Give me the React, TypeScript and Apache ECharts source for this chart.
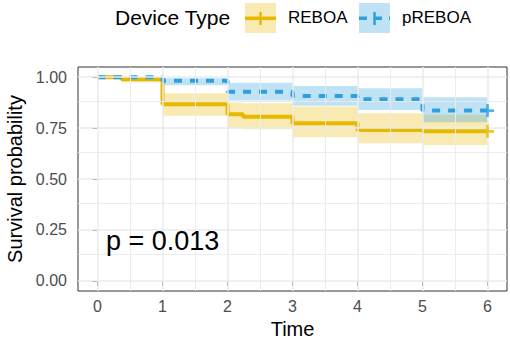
import React, { useEffect, useRef } from "react";
import * as echarts from "echarts";

// Kaplan-Meier estimates
const reboaTime = [0, 0.37, 1, 2, 2.24, 3, 4, 5, 6];
const reboaSurv = [1, 0.99, 0.867, 0.818, 0.806, 0.774, 0.741, 0.734, 0.734];
const reboaUpper = [1, 1, 0.921, 0.875, 0.872, 0.856, 0.823, 0.815, 0.815];
const reboaLower = [1, 0.975, 0.81, 0.748, 0.744, 0.705, 0.675, 0.667, 0.667];

const preboaTime = [0, 1, 2, 3, 4, 5, 6];
const preboaSurv = [1, 0.983, 0.929, 0.908, 0.892, 0.836, 0.836];
const preboaUpper = [1, 0.995, 0.973, 0.957, 0.946, 0.902, 0.902];
const preboaLower = [1, 0.96, 0.885, 0.86, 0.839, 0.779, 0.779];

const xTicks = [0, 1, 2, 3, 4, 5, 6];
const xMinor = [0.5, 1.5, 2.5, 3.5, 4.5, 5.5];
const yTicks = [0, 0.25, 0.5, 0.75, 1];
const yMinor = [0.125, 0.375, 0.625, 0.875];

const groupNames = ["REBOA", "pREBOA"];
const legendTitle = "Device Type";
const pValueText = "p = 0.013";

const ORANGE = "#E7B800";
const BLUE = "#2E9FDF";
const ORANGE_FILL = "rgba(231,184,0,0.3)";
const BLUE_FILL = "rgba(46,159,223,0.3)";
const FONT = "'Liberation Sans', Arial, Helvetica, sans-serif";
const PLUS = "path://M4,0H6V4H10V6H6V10H4V6H0V4H4Z";

function bandData(t: number[], lo: number[], hi: number[]) {
  const out: number[][] = [];
  for (let i = 0; i < t.length - 1; i++) out.push([t[i], t[i + 1], lo[i], hi[i]]);
  return out;
}

function bandSeries(name: string, t: number[], lo: number[], hi: number[], fill: string) {
  return {
    type: "custom",
    name,
    z: 1,
    silent: true,
    data: bandData(t, lo, hi),
    encode: { x: [0, 1], y: [2, 3] },
    renderItem: (_p: any, api: any) => {
      const a = api.coord([api.value(0), api.value(3)]);
      const b = api.coord([api.value(1), api.value(2)]);
      return {
        type: "rect",
        shape: { x: a[0], y: a[1], width: b[0] - a[0], height: b[1] - a[1] },
        style: { fill },
      };
    },
  };
}

export default function App() {
  const ref = useRef<HTMLDivElement>(null);
  useEffect(() => {
    if (!ref.current) return;
    const chart = echarts.init(ref.current, undefined, { renderer: "svg" });
    const gridLines = [
      ...xTicks.map((v) => ({ xAxis: v, lineStyle: { width: 1.5 } })),
      ...xMinor.map((v) => ({ xAxis: v, lineStyle: { width: 0.9 } })),
      ...yTicks.map((v) => ({ yAxis: v, lineStyle: { width: 1.5 } })),
      ...yMinor.map((v) => ({ yAxis: v, lineStyle: { width: 0.9 } })),
    ];
    chart.setOption({
      animation: false,
      backgroundColor: "#ffffff",
      textStyle: { fontFamily: FONT },
      grid: {
        left: 78,
        right: 3,
        top: 67,
        bottom: 48,
        show: true,
        borderColor: "#333333",
        borderWidth: 1,
        backgroundColor: "#ffffff",
        outerBoundsMode: "none",
      },
      xAxis: {
        type: "value",
        min: -0.3,
        max: 6.3,
        name: "Time",
        nameLocation: "middle",
        nameGap: 30,
        nameTextStyle: { color: "#000", fontSize: 20, lineHeight: 16, fontFamily: FONT },
        axisLine: { show: false },
        axisTick: { show: true, customValues: xTicks, length: 5, lineStyle: { color: "#333333", width: 1 } },
        axisLabel: {
          customValues: xTicks,
          color: "#4D4D4D",
          fontSize: 16,
          margin: 7,
          fontFamily: FONT,
          formatter: (v: number) => String(v),
        },
        splitLine: { show: false },
      },
      yAxis: {
        type: "value",
        min: -0.05,
        max: 1.05,
        name: "Survival probability",
        nameLocation: "middle",
        nameRotate: 90,
        nameGap: 50,
        nameTextStyle: { color: "#000", fontSize: 20, fontFamily: FONT },
        axisLine: { show: false },
        axisTick: { show: true, customValues: yTicks, length: 5, lineStyle: { color: "#333333", width: 1 } },
        axisLabel: {
          customValues: yTicks,
          color: "#4D4D4D",
          fontSize: 16,
          margin: 11,
          fontFamily: FONT,
          formatter: (v: number) => v.toFixed(2),
        },
        splitLine: { show: false },
      },
      series: [
        {
          type: "line",
          name: "grid",
          z: 0,
          silent: true,
          data: [[0, 1]],
          symbol: "none",
          lineStyle: { opacity: 0 },
          markLine: {
            silent: true,
            symbol: ["none", "none"],
            label: { show: false },
            lineStyle: { color: "#EBEBEB", type: "solid" },
            data: gridLines,
          },
        },
        bandSeries(groupNames[0], reboaTime, reboaLower, reboaUpper, ORANGE_FILL),
        bandSeries(groupNames[1], preboaTime, preboaLower, preboaUpper, BLUE_FILL),
        {
          type: "line",
          name: groupNames[0],
          z: 3,
          step: "end",
          symbol: "none",
          data: reboaTime.map((t, i) => [t, reboaSurv[i]]),
          lineStyle: { color: ORANGE, width: 4 },
        },
        {
          type: "line",
          name: groupNames[1],
          z: 4,
          step: "end",
          symbol: "none",
          data: preboaTime.map((t, i) => [t, preboaSurv[i]]),
          lineStyle: { color: BLUE, width: 4, type: [8, 8] },
        },
        {
          type: "scatter",
          name: "censor",
          z: 5,
          symbol: PLUS,
          symbolSize: 13,
          data: [
            { value: [reboaTime[reboaTime.length - 1], reboaSurv[reboaSurv.length - 1]], itemStyle: { color: ORANGE } },
            { value: [preboaTime[preboaTime.length - 1], preboaSurv[preboaSurv.length - 1]], itemStyle: { color: BLUE } },
          ],
        },
      ],
      graphic: [
        {
          type: "text",
          z: 100,
          left: 106,
          top: 227,
          style: { text: pValueText, fontSize: 27, fill: "#000", fontFamily: FONT },
        },
        {
          type: "text",
          z: 100,
          left: 115,
          top: 7,
          style: { text: legendTitle, fontSize: 21, fill: "#000", fontFamily: FONT },
        },
        // REBOA key
        { type: "rect", z: 100, shape: { x: 245, y: 3, width: 31, height: 30 }, style: { fill: ORANGE_FILL } },
        { type: "line", z: 101, shape: { x1: 245, y1: 18.3, x2: 276, y2: 18.3 }, style: { stroke: ORANGE, lineWidth: 3.5 } },
        { type: "line", z: 101, shape: { x1: 260.5, y1: 12, x2: 260.5, y2: 25 }, style: { stroke: ORANGE, lineWidth: 2.5 } },
        { type: "text", z: 100, left: 288, top: 9, style: { text: groupNames[0], fontSize: 17, fill: "#000", fontFamily: FONT } },
        // pREBOA key
        { type: "rect", z: 100, shape: { x: 359, y: 3, width: 31, height: 30 }, style: { fill: BLUE_FILL } },
        { type: "line", z: 101, shape: { x1: 359, y1: 18.3, x2: 390, y2: 18.3 }, style: { stroke: BLUE, lineWidth: 3.5, lineDash: [8, 7] } },
        { type: "line", z: 101, shape: { x1: 374.5, y1: 12, x2: 374.5, y2: 25 }, style: { stroke: BLUE, lineWidth: 2.5 } },
        { type: "text", z: 100, left: 402, top: 9, style: { text: groupNames[1], fontSize: 17, fill: "#000", fontFamily: FONT } },
      ],
    });
    return () => chart.dispose();
  }, []);
  return (
    <div
      ref={ref}
      style={{ position: "fixed", left: 0, top: 0, width: 510, height: 339 }}
    />
  );
}
